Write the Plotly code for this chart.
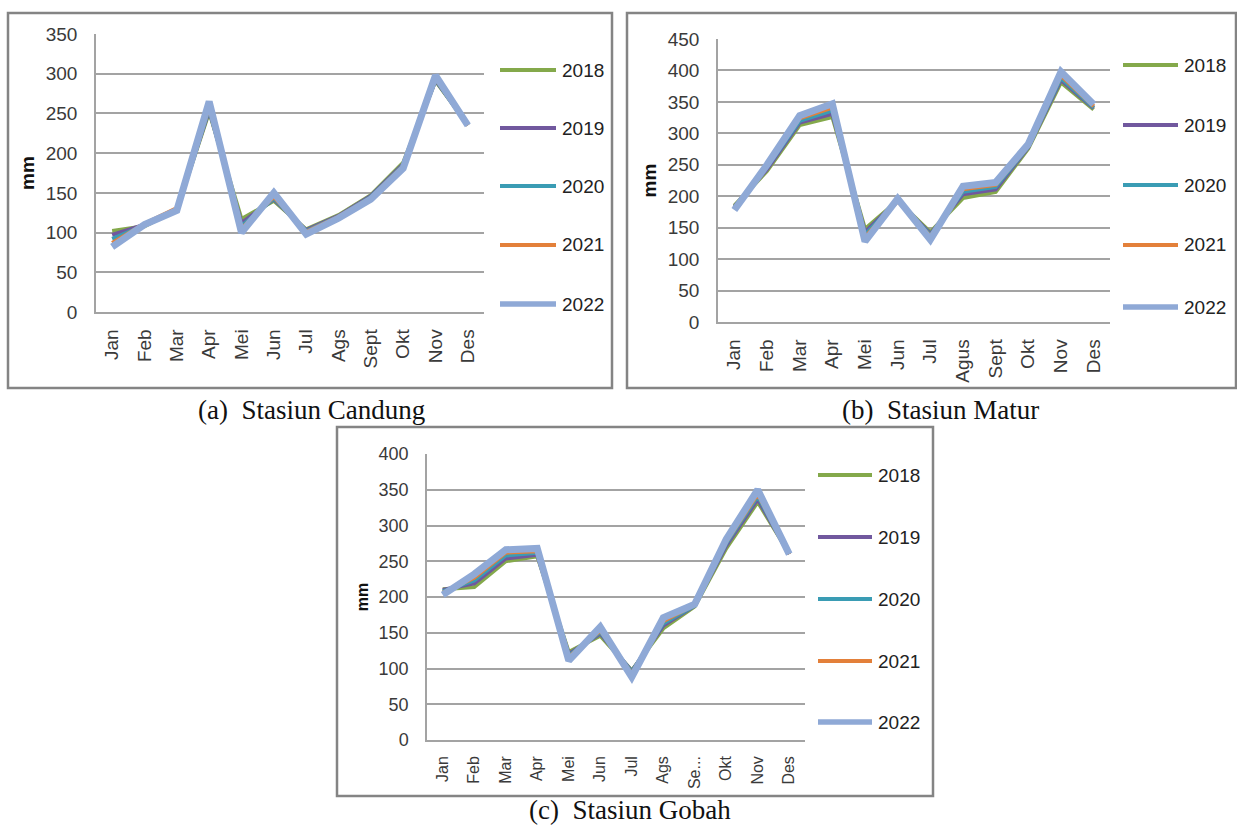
import plotly.graph_objects as go

W, H = 1237, 828

years = ["2018", "2019", "2020", "2021", "2022"]
line_colors = ["#84A94B", "#71589E", "#3A9CB4", "#E3803A", "#8FA9D6"]
line_widths = [4, 4, 4, 4, 7]
legend_widths = [4, 4, 4, 4, 5.5]

months_a = ["Jan", "Feb", "Mar", "Apr", "Mei", "Jun", "Jul", "Ags", "Sept", "Okt", "Nov", "Des"]
months_b = ["Jan", "Feb", "Mar", "Apr", "Mei", "Jun", "Jul", "Agus", "Sept", "Okt", "Nov", "Des"]
months_c = ["Jan", "Feb", "Mar", "Apr", "Mei", "Jun", "Jul", "Ags", "Sept", "Okt", "Nov", "Des"]
ticks_c = ["Jan", "Feb", "Mar", "Apr", "Mei", "Jun", "Jul", "Ags", "Se...", "Okt", "Nov", "Des"]

# Stasiun Candung (mm)
candung_2018 = [102, 108, 129, 252, 117, 140, 104, 122, 147, 188, 291, 236]
candung_2019 = [97, 110, 129, 254, 112, 142, 103, 121, 146, 186, 292, 236]
candung_2020 = [92, 109, 129, 256, 108, 143, 102, 120, 145, 185, 293, 235]
candung_2021 = [87, 111, 131, 258, 105, 145, 101, 120, 144, 184, 294, 235]
candung_2022 = [82, 110, 128, 265, 100, 150, 98, 118, 142, 181, 298, 235]

# Stasiun Matur (mm)
matur_2018 = [185, 240, 313, 326, 148, 193, 143, 197, 207, 276, 381, 338]
matur_2019 = [183, 243, 317, 331, 143, 193, 140, 203, 211, 278, 385, 340]
matur_2020 = [182, 246, 320, 336, 139, 193, 138, 207, 215, 279, 388, 341]
matur_2021 = [181, 248, 324, 341, 135, 192, 136, 211, 218, 280, 392, 343]
matur_2022 = [178, 250, 328, 347, 128, 196, 131, 216, 222, 283, 398, 346]

# Stasiun Gobah (mm)
gobah_2018 = [211, 214, 250, 257, 123, 146, 97, 156, 187, 268, 333, 261]
gobah_2019 = [210, 219, 254, 259, 120, 149, 96, 160, 188, 272, 337, 260]
gobah_2020 = [208, 223, 258, 262, 118, 151, 95, 163, 188, 275, 341, 260]
gobah_2021 = [206, 227, 262, 264, 116, 153, 93, 166, 189, 277, 344, 260]
gobah_2022 = [203, 232, 266, 268, 111, 158, 88, 171, 190, 281, 350, 260]

panels = [
    dict(months=months_a, series=[candung_2018, candung_2019, candung_2020, candung_2021, candung_2022],
         xd=(96, 484), yd=(34, 312), ymax=350, tick=19, xtick=19, title=19,
         ticktext=months_a, leg_x=(500, 556), leg_y=[70, 128, 186, 245, 304]),
    dict(months=months_b, series=[matur_2018, matur_2019, matur_2020, matur_2021, matur_2022],
         xd=(718, 1110), yd=(39, 322), ymax=450, tick=19, xtick=19, title=19,
         ticktext=months_b, leg_x=(1123, 1178), leg_y=[65, 125, 185, 245, 307]),
    dict(months=months_c, series=[gobah_2018, gobah_2019, gobah_2020, gobah_2021, gobah_2022],
         xd=(427, 805), yd=(454, 740), ymax=400, tick=18, xtick=16, title=16,
         ticktext=ticks_c, leg_x=(818, 872), leg_y=[475, 537, 599, 661, 722]),
]


def px(x):
    return x / W


def py(y):
    return 1 - y / H


font_main = "Liberation Sans, Arial, sans-serif"
txt = "#3a3a3a"
grid = "#a3a3a3"

fig = go.Figure()
layout = dict(
    width=W, height=H,
    margin=dict(l=0, r=0, t=0, b=0, autoexpand=False),
    paper_bgcolor="white", plot_bgcolor="white",
    font=dict(family=font_main, color=txt),
    showlegend=False,
)

shapes = []
annotations = []

for i, p in enumerate(panels):
    sfx = "" if i == 0 else str(i + 1)
    for k, (yr, vals) in enumerate(zip(years, p["series"])):
        fig.add_trace(go.Scatter(
            x=p["months"], y=vals, mode="lines", name=yr,
            line=dict(color=line_colors[k], width=line_widths[k]),
            xaxis="x" + sfx, yaxis="y" + sfx,
        ))
        # legend key for this series
        ly = p["leg_y"][k]
        shapes.append(dict(type="line", xref="paper", yref="paper",
                           x0=px(p["leg_x"][0]), x1=px(p["leg_x"][1]), y0=py(ly), y1=py(ly),
                           line=dict(color=line_colors[k], width=legend_widths[k])))
        annotations.append(dict(text=yr, x=px(p["leg_x"][1] + 4), y=py(ly), xref="paper", yref="paper",
                                showarrow=False, xanchor="left", yanchor="middle",
                                font=dict(size=19, color="#222", family=font_main)))
    layout["xaxis" + sfx] = dict(
        domain=[px(p["xd"][0]), px(p["xd"][1])], anchor="y" + sfx,
        type="category", categoryorder="array", categoryarray=p["months"],
        range=[-0.5, len(p["months"]) - 0.5],
        tickvals=p["months"], ticktext=p["ticktext"],
        tickangle=-90, tickfont=dict(size=p["xtick"], color=txt),
        showgrid=False, showline=True, linecolor=grid, linewidth=1.5,
        ticks="", ticklabelstandoff=8, fixedrange=True,
    )
    layout["yaxis" + sfx] = dict(
        domain=[py(p["yd"][1]), py(p["yd"][0])], anchor="x" + sfx,
        range=[0, p["ymax"]], dtick=50, tickfont=dict(size=p["tick"], color=txt),
        showgrid=True, gridcolor=grid, gridwidth=1.5,
        showline=True, linecolor=grid, linewidth=1.5, zeroline=False,
        ticks="", ticklabelstandoff=13,
        title=dict(text="<b>mm</b>", font=dict(size=p["title"], color="#111"), standoff=6),
        fixedrange=True,
    )

# Panel frames
frames = [(8, 13, 612, 388), (627, 13, 1236, 388), (337, 427, 933, 796)]
for x0, y0, x1, y1 in frames:
    shapes.append(dict(type="rect", xref="paper", yref="paper",
                       x0=px(x0), x1=px(x1), y0=py(y1), y1=py(y0),
                       line=dict(color="#848484", width=2.5), fillcolor="rgba(0,0,0,0)",
                       layer="below"))

captions = [("(a)\u00a0\u00a0Stasiun Candung", 311, 410),
            ("(b)\u00a0\u00a0Stasiun Matur", 940, 410),
            ("(c)\u00a0\u00a0Stasiun Gobah", 630, 810)]
for t, x, y in captions:
    annotations.append(dict(text=t, x=px(x), y=py(y), xref="paper", yref="paper", showarrow=False,
                            xanchor="center", yanchor="middle", borderpad=0,
                            font=dict(family="Liberation Serif, Times New Roman, serif", size=27, color="#111")))

layout["shapes"] = shapes
layout["annotations"] = annotations

fig.update_layout(**layout)
fig.write_html("out.html", config={"displayModeBar": False})
